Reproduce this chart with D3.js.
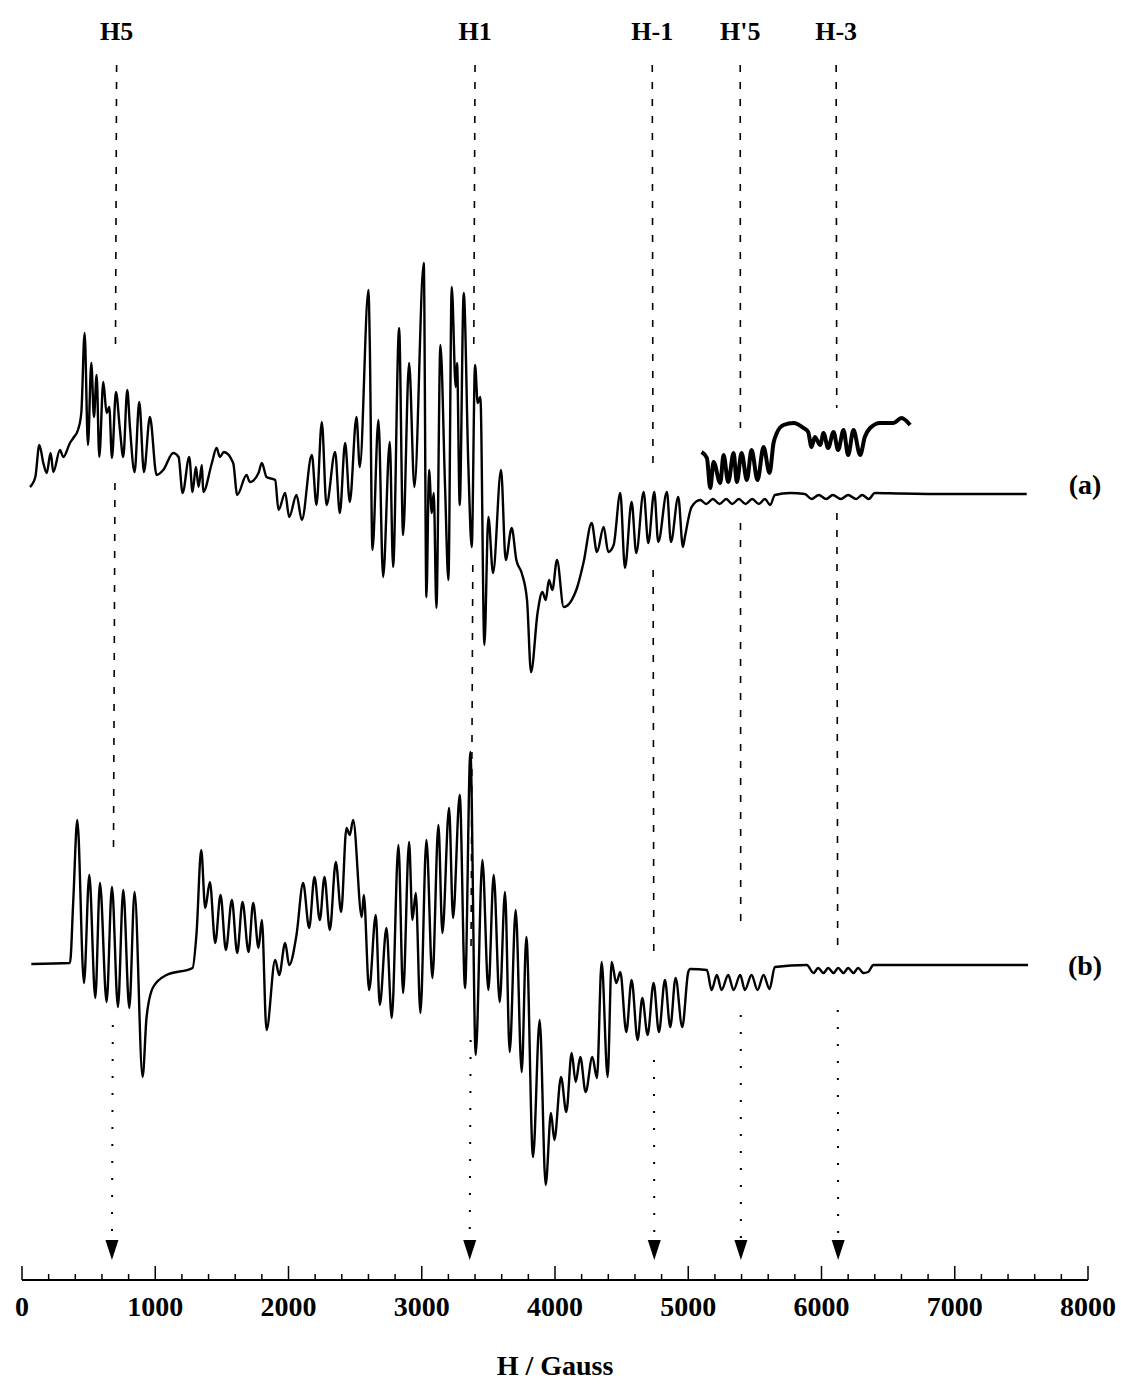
<!DOCTYPE html>
<html lang="en">
<head>
<meta charset="UTF-8">
<title>EPR spectrum</title>
<script src="https://d3js.org/d3.v7.min.js"></script>
<style>
  body { margin: 0; background: #fff; }
  text { font-family: "Liberation Serif", "Times New Roman", serif; font-weight: bold; fill: #000; }
</style>
</head>
<body>
<script>
// field (Gauss), signal (arb. units) for experimental spectrum (a)
const specA = [[60,7],[100,17],[130,49],[160,31],[185,21],[215,41],[235,22],[285,44],[310,37],[360,51],[385,56],[420,64],[445,81],[470,161],[495,49],[520,131],[540,77],[560,119],[580,37],[610,112],[635,81],[655,87],[675,36],[705,102],[735,64],[760,37],[790,104],[810,67],[845,22],[880,92],[915,22],[960,77],[1010,19],[1060,24],[1135,41],[1175,37],[1205,1],[1255,37],[1280,2],[1305,27],[1325,7],[1350,29],[1360,2],[1425,31],[1460,46],[1485,37],[1515,42],[1585,31],[1615,-1],[1685,19],[1710,12],[1775,21],[1800,31],[1835,17],[1900,14],[1925,-16],[1975,1],[2005,-23],[2060,-1],[2100,-26],[2175,39],[2210,-11],[2250,72],[2285,-11],[2350,42],[2385,-19],[2425,51],[2460,-8],[2510,77],[2535,27],[2600,204],[2610,151],[2630,-56],[2675,74],[2710,-83],[2760,52],[2785,-73],[2830,166],[2860,-41],[2905,131],[2945,7],[3015,231],[3035,-103],[3055,24],[3075,-19],[3090,1],[3110,-114],[3140,149],[3175,7],[3200,-86],[3225,207],[3255,107],[3265,131],[3285,-11],[3315,201],[3350,27],[3375,-53],[3400,129],[3420,91],[3440,97],[3470,-151],[3500,-23],[3535,-79],[3595,24],[3630,-66],[3675,-34],[3710,-66],[3750,-79],[3790,-106],[3820,-178],[3870,-118],[3905,-98],[3930,-106],[3955,-86],[3980,-96],[4015,-66],[4065,-113],[4165,-94],[4215,-68],[4275,-29],[4315,-58],[4365,-33],[4400,-58],[4440,-51],[4490,1],[4525,-74],[4575,-8],[4610,-59],[4665,2],[4700,-49],[4745,2],[4775,-48],[4840,2],[4870,-48],[4925,-3],[4960,-53],[4975,-43],[5025,-13],[5090,-6],[5135,-10],[5185,-5],[5235,-10],[5285,-5],[5330,-10],[5380,-5],[5430,-10],[5480,-5],[5530,-10],[5575,-5],[5615,-11],[5650,-1],[5765,1],[5875,0],[5925,-5],[5980,-1],[6035,-5],[6085,-1],[6145,-5],[6200,-1],[6260,-5],[6305,-1],[6355,-5],[6400,1],[6590,0.5],[6965,0],[7540,0]];

// magnified high-field part of (a)
const specAInset = [[5100,42],[5140,36],[5165,6],[5190,32],[5240,11],[5265,39],[5300,12],[5340,41],[5365,12],[5400,41],[5440,14],[5475,44],[5520,14],[5565,47],[5610,21],[5640,51],[5665,61],[5715,69],[5790,71],[5865,66],[5900,62],[5925,47],[5950,57],[5990,49],[6015,61],[6050,46],[6090,62],[6125,44],[6165,64],[6200,39],[6240,64],[6290,39],[6325,57],[6365,66],[6440,71],[6540,71],[6600,76],[6665,69]];

// simulated spectrum (b)
const specB = [[70,0],[360,1],[385,64],[415,144],[465,-19],[505,89],[550,-34],[585,81],[635,-38],[675,77],[720,-43],[760,74],[805,-44],[845,72],[905,-113],[935,-53],[985,-23],[1085,-11],[1280,-4],[1310,31],[1345,114],[1375,56],[1410,82],[1450,21],[1490,69],[1530,14],[1575,64],[1615,11],[1655,62],[1700,12],[1735,61],[1775,16],[1800,44],[1835,-66],[1900,4],[1930,-11],[1975,21],[2005,-1],[2060,29],[2110,81],[2155,36],[2195,87],[2235,44],[2270,87],[2310,34],[2355,102],[2395,52],[2435,136],[2460,129],[2485,144],[2550,47],[2565,69],[2605,-26],[2655,49],[2685,-41],[2735,36],[2775,-54],[2825,119],[2860,-29],[2905,122],[2930,44],[2955,71],[2990,-49],[3035,124],[3080,-14],[3125,139],[3155,31],[3205,156],[3235,46],[3285,169],[3325,-24],[3365,212],[3405,-91],[3455,104],[3500,-26],[3540,89],[3585,-38],[3625,72],[3660,-88],[3705,54],[3750,-108],[3785,27],[3835,-193],[3885,-56],[3930,-221],[3970,-149],[3995,-176],[4045,-113],[4085,-148],[4125,-89],[4155,-118],[4190,-93],[4230,-128],[4280,-93],[4315,-114],[4350,2],[4395,-113],[4425,2],[4460,-19],[4490,-8],[4535,-68],[4575,-16],[4620,-76],[4655,-34],[4695,-71],[4740,-19],[4780,-68],[4825,-16],[4865,-63],[4905,-14],[4955,-63],[5000,-8],[5015,-5],[5140,-6],[5175,-26],[5215,-11],[5250,-26],[5300,-11],[5340,-26],[5390,-11],[5425,-26],[5475,-11],[5520,-26],[5565,-11],[5610,-25],[5650,-3],[5890,-1],[5940,-9],[5975,-4],[6015,-9],[6050,-4],[6090,-9],[6125,-4],[6165,-9],[6200,-4],[6240,-9],[6275,-4],[6315,-9],[6350,-8],[6390,-1],[7550,-1]];

// resonance markers
const markerNames = ["H5", "H1", "H-1", "H'5", "H-3"];
const markerTopField = [710, 3400, 4730, 5390, 6110];
const markerArrowField = [675, 3360, 4745, 5395, 6125];

const axisTicks = [0, 1000, 2000, 3000, 4000, 5000, 6000, 7000, 8000];

const W = 1121, H = 1384;
const svg = d3.select("body").append("svg")
    .attr("width", W)
    .attr("height", H);

const x = d3.scaleLinear().domain([0, 8000]).range([22, 1088]);
const yA = d3.scaleLinear().domain([-250, 250]).range([744, 244]);
const yB = d3.scaleLinear().domain([-250, 250]).range([1214, 714]);

// marker lines: dashed above, dotted below spectrum (b)
const yTop = 65, yArrow = 1240;
const segs = [
    { dash: [[yTop, 350], [483, 850]], dot: [1025, yArrow] },
    { dash: [[yTop, 350], [565, 955]], dot: [1040, yArrow] },
    { dash: [[yTop, 470], [570, 957]], dot: [1060, yArrow] },
    { dash: [[yTop, 428], [523, 930]], dot: [1015, yArrow] },
    { dash: [[yTop, 408], [513, 950]], dot: [1010, yArrow] }
];
const lineX = (i, yy) => {
    const x0 = x(markerTopField[i]), x1 = x(markerArrowField[i]);
    return x0 + (x1 - x0) * (yy - yTop) / (yArrow - yTop);
};

const markers = svg.append("g");
markerNames.forEach((name, i) => {
    segs[i].dash.forEach(s => {
        markers.append("line")
            .attr("x1", lineX(i, s[0])).attr("y1", s[0])
            .attr("x2", lineX(i, s[1])).attr("y2", s[1])
            .attr("stroke", "#000").attr("stroke-width", 1.6)
            .attr("stroke-dasharray", "7,10");
    });
    const d = segs[i].dot;
    markers.append("line")
        .attr("x1", lineX(i, d[0])).attr("y1", d[0])
        .attr("x2", lineX(i, d[1])).attr("y2", d[1])
        .attr("stroke", "#000").attr("stroke-width", 2)
        .attr("stroke-dasharray", "2,15");
    // arrow head
    const ax = x(markerArrowField[i]);
    markers.append("path")
        .attr("d", `M${ax - 6.5},${yArrow} L${ax + 6.5},${yArrow} L${ax},${yArrow + 20} Z`)
        .attr("fill", "#000");
    markers.append("text")
        .attr("x", x(markerTopField[i]))
        .attr("y", 40)
        .attr("text-anchor", "middle")
        .attr("font-size", 26)
        .text(name);
});

// spectra
const lineA = d3.line().x(d => x(d[0])).y(d => yA(d[1])).curve(d3.curveMonotoneX);
const lineB = d3.line().x(d => x(d[0])).y(d => yB(d[1])).curve(d3.curveMonotoneX);

svg.append("path").datum(specA)
    .attr("d", lineA).attr("fill", "none")
    .attr("stroke", "#000").attr("stroke-width", 2.4).attr("stroke-linejoin", "round");

svg.append("path").datum(specAInset)
    .attr("d", lineA).attr("fill", "none")
    .attr("stroke", "#000").attr("stroke-width", 4).attr("stroke-linejoin", "round");

svg.append("path").datum(specB)
    .attr("d", lineB).attr("fill", "none")
    .attr("stroke", "#000").attr("stroke-width", 2.4).attr("stroke-linejoin", "round");

svg.append("text").attr("x", 1085).attr("y", 494)
    .attr("text-anchor", "middle").attr("font-size", 28).text("(a)");
svg.append("text").attr("x", 1085).attr("y", 975)
    .attr("text-anchor", "middle").attr("font-size", 28).text("(b)");

// field axis
const axisY = 1280;
const axis = svg.append("g").attr("transform", `translate(0,${axisY})`);
axis.append("line")
    .attr("x1", x(0)).attr("x2", x(8000))
    .attr("stroke", "#000").attr("stroke-width", 2);

const minor = d3.range(0, 8001, 200).filter(v => v % 1000 !== 0);
axis.selectAll(".minor").data(minor).enter().append("line")
    .attr("x1", d => x(d)).attr("x2", d => x(d))
    .attr("y1", 0).attr("y2", -6)
    .attr("stroke", "#000").attr("stroke-width", 1.5);
axis.selectAll(".major").data(axisTicks).enter().append("line")
    .attr("x1", d => x(d)).attr("x2", d => x(d))
    .attr("y1", 0).attr("y2", -14)
    .attr("stroke", "#000").attr("stroke-width", 1.5);
axis.selectAll(".lbl").data(axisTicks).enter().append("text")
    .attr("x", d => x(d))
    .attr("y", 36)
    .attr("text-anchor", "middle")
    .attr("font-size", 28)
    .text(d => d);

svg.append("text")
    .attr("x", 555).attr("y", 1375)
    .attr("text-anchor", "middle")
    .attr("font-size", 28)
    .text("H / Gauss");
</script>
</body>
</html>
